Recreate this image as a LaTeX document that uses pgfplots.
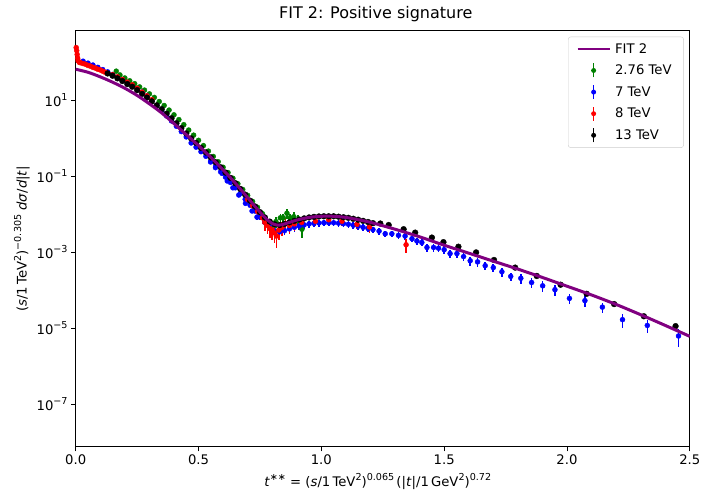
\documentclass[border=0pt]{standalone}
\usepackage{fontspec}
\setmainfont{DejaVu Sans}
\usepackage{pgfplots}
\usepackage{pgfplotstable}
\pgfplotsset{compat=1.18}
\definecolor{mplgreen}{HTML}{008000}
\definecolor{mplpurple}{HTML}{800080}
\newcommand\sps[1]{\raisebox{0.42em}{\fontsize{9.6bp}{10bp}\selectfont #1}}

\pgfplotstableread{
x y
0.00 64.6
0.05 53.7
0.10 40.7
0.15 29.5
0.20 20.4
0.25 13.2
0.30 7.94
0.35 4.57
0.40 2.40
0.45 1.23
0.50 0.631
0.55 0.309
0.60 0.145
0.65 0.0646
0.70 0.0269
0.73 0.0158
0.76 0.00955
0.78 0.00708
0.80 0.00562
0.82 0.00513
0.84 0.00525
0.87 0.00603
0.90 0.00692
0.95 0.00813
1.00 0.00871
1.05 0.00871
1.10 0.00813
1.15 0.00708
1.20 0.00603
1.30 0.00398
1.40 0.00251
1.50 0.00151
1.60 9.33e-4
1.70 5.75e-4
1.80 3.55e-4
1.90 2.14e-4
2.00 1.26e-4
2.10 7.41e-5
2.20 4.17e-5
2.30 2.24e-5
2.40 1.17e-5
2.50 6.03e-6
}\fittab

\pgfplotstableread{
x y e
0.165 57.5 0.05
0.18 45.7 0.05
0.20 38.0 0.05
0.22 32.0 0.05
0.24 26.9 0.05
0.26 22.1 0.05
0.28 18.2 0.05
0.30 14.5 0.05
0.32 11.7 0.05
0.34 9.12 0.05
0.36 7.16 0.05
0.38 5.43 0.05
0.40 4.07 0.05
0.42 3.05 0.05
0.44 2.24 0.05
0.46 1.62 0.05
0.48 1.19 0.05
0.50 0.871 0.06
0.52 0.631 0.06
0.54 0.452 0.06
0.56 0.327 0.07
0.58 0.237 0.07
0.60 0.170 0.08
0.62 0.123 0.08
0.64 0.0871 0.08
0.66 0.0624 0.1
0.68 0.0442 0.1
0.70 0.0309 0.1
0.72 0.0214 0.12
0.74 0.0150 0.15
0.76 0.0102 0.2
0.78 0.00631 0.3
0.80 0.00501 0.3
0.815 0.00631 0.3
0.833 0.00794 0.3
0.845 0.00794 0.3
0.86 0.0105 0.3
0.873 0.00794 0.3
0.888 0.00851 0.3
0.905 0.00708 0.3
0.921 0.00398 0.4
}\greentab

\pgfplotstableread{
x y e
0.03 105 0.03
0.05 93.3 0.03
0.07 83.2 0.03
0.09 72.4 0.03
0.11 63.1 0.03
0.13 55.0 0.03
0.15 46.8 0.03
0.17 39.8 0.03
0.19 33.9 0.03
0.21 28.8 0.03
0.23 24.0 0.03
0.25 20.0 0.03
0.27 16.2 0.03
0.29 12.9 0.03
0.31 9.33 0.03
0.33 7.08 0.03
0.35 5.25 0.03
0.37 3.80 0.03
0.39 2.82 0.03
0.41 2.04 0.03
0.43 1.48 0.03
0.45 1.07 0.04
0.47 0.741 0.05
0.49 0.575 0.05
0.51 0.437 0.05
0.53 0.331 0.05
0.55 0.245 0.06
0.57 0.182 0.06
0.59 0.129 0.07
0.61 0.0933 0.07
0.63 0.0676 0.08
0.65 0.0490 0.08
0.67 0.0347 0.1
0.69 0.0245 0.1
0.71 0.0170 0.12
0.73 0.0120 0.12
0.75 0.00832 0.15
0.77 0.00603 0.2
0.79 0.00447 0.25
0.81 0.00363 0.25
0.83 0.00339 0.25
0.85 0.00363 0.25
0.87 0.00407 0.25
0.89 0.00447 0.25
0.91 0.00484 0.22
0.93 0.00519 0.2
0.95 0.00550 0.2
0.97 0.00569 0.2
0.99 0.00582 0.2
1.01 0.00589 0.2
1.03 0.00589 0.2
1.05 0.00589 0.2
1.07 0.00575 0.2
1.09 0.00556 0.2
1.11 0.00537 0.2
1.13 0.00507 0.2
1.15 0.00479 0.2
1.17 0.00447 0.2
1.19 0.00417 0.2
1.21 0.00389 0.2
1.235 0.00355 0.2
1.26 0.00302 0.2
1.287 0.00302 0.2
1.314 0.00275 0.2
1.341 0.00263 0.2
1.369 0.00224 0.2
1.389 0.00195 0.2
1.409 0.00178 0.2
1.43 0.00132 0.22
1.457 0.00132 0.22
1.477 0.00126 0.22
1.50 0.00115 0.22
1.524 9.12e-4 0.25
1.552 9.12e-4 0.25
1.579 7.59e-4 0.25
1.606 5.89e-4 0.25
1.636 5.50e-4 0.25
1.667 4.37e-4 0.25
1.70 3.89e-4 0.25
1.735 3.02e-4 0.25
1.771 2.29e-4 0.25
1.812 2.04e-4 0.3
1.856 1.58e-4 0.3
1.901 1.29e-4 0.3
1.951 1.02e-4 0.3
2.01 6.03e-5 0.3
2.073 5.25e-5 0.3
2.144 3.55e-5 0.3
2.226 1.66e-5 0.4
2.327 1.17e-5 0.35
2.454 6.17e-6 0.5
0.549 0.234 0.06
0.569 0.166 0.06
0.596 0.117 0.07
0.617 0.0741 0.07
0.64 0.0490 0.08
0.664 0.0316 0.08
0.691 0.0191 0.1
0.718 0.0120 0.12
0.738 0.00832 0.15
}\bluetab

\pgfplotstableread{
x y e
0.002 240 0.08
0.004 200 0.08
0.006 158 0.08
0.008 126 0.06
0.010 107 0.05
0.015 97.7 0.05
0.02 95.5 0.05
0.03 91.2 0.05
0.04 87.1 0.05
0.05 81.3 0.05
0.06 77.6 0.05
0.07 72.4 0.05
0.08 69.2 0.05
0.09 64.6 0.05
0.10 61.7 0.05
0.11 57.5 0.05
0.12 53.7 0.05
0.13 50.1 0.05
0.15 46.8 0.05
0.17 40.7 0.05
0.19 34.7 0.05
0.21 29.5 0.05
0.23 25.1 0.05
0.25 20.4 0.05
0.27 16.2 0.05
0.29 12.9 0.05
0.31 10.2 0.05
0.70 0.0240 0.2
0.72 0.0166 0.2
0.74 0.0117 0.25
0.76 0.00794 0.3
0.77 0.00603 0.4
0.78 0.00501 0.4
0.79 0.00417 0.45
0.80 0.00380 0.45
0.81 0.00316 0.45
0.817 0.00263 0.5
0.827 0.00380 0.45
0.84 0.00447 0.4
0.854 0.00562 0.4
0.87 0.00501 0.4
0.89 0.00550 0.35
0.92 0.00603 0.3
0.976 0.00646 0.25
1.03 0.00708 0.25
1.084 0.00646 0.25
1.145 0.00537 0.25
1.196 0.00457 0.3
1.345 0.00155 0.4
}\redtab

\pgfplotstableread{
x y e
0.13 50.1 0.02
0.15 43.7 0.02
0.17 37.2 0.02
0.19 31.6 0.02
0.21 26.3 0.02
0.23 22.4 0.02
0.25 18.2 0.02
0.27 14.5 0.02
0.29 11.6 0.02
0.31 9.23 0.02
0.33 7.24 0.02
0.35 5.75 0.02
0.37 4.37 0.02
0.39 3.31 0.02
0.41 2.45 0.02
0.43 1.82 0.02
0.45 1.32 0.02
0.47 0.977 0.02
0.49 0.741 0.02
0.51 0.550 0.02
0.53 0.417 0.02
0.55 0.309 0.02
0.57 0.229 0.02
0.59 0.170 0.02
0.61 0.123 0.02
0.63 0.0891 0.02
0.65 0.0646 0.02
0.67 0.0457 0.02
0.69 0.0324 0.02
0.71 0.0224 0.02
0.73 0.0158 0.02
0.75 0.0112 0.02
0.77 0.00813 0.02
0.79 0.00631 0.02
0.81 0.00537 0.02
0.83 0.00513 0.02
0.85 0.00550 0.02
0.87 0.00603 0.02
0.89 0.00661 0.02
0.91 0.00716 0.02
0.93 0.00767 0.02
0.95 0.00813 0.02
0.97 0.00841 0.02
0.99 0.00861 0.02
1.01 0.00871 0.02
1.03 0.00871 0.02
1.05 0.00871 0.02
1.07 0.00851 0.02
1.09 0.00822 0.02
1.11 0.00794 0.02
1.13 0.00750 0.02
1.15 0.00708 0.02
1.17 0.00661 0.02
1.19 0.00617 0.02
1.21 0.00575 0.02
1.24 0.00562 0.02
1.274 0.00513 0.02
1.335 0.00398 0.02
1.382 0.00324 0.02
1.45 0.00240 0.02
1.497 0.00182 0.02
1.558 0.00138 0.02
1.63 9.77e-4 0.02
1.703 6.17e-4 0.02
1.789 3.89e-4 0.02
1.877 2.34e-4 0.02
1.974 1.38e-4 0.02
2.08 7.94e-5 0.02
2.192 4.27e-5 0.02
2.313 2.04e-5 0.02
2.442 1.12e-5 0.02
}\blacktab

\pgfplotsset{
  dat/.style={color=#1, only marks, mark=*, mark size=2.5bp,
    mark options={solid, fill=#1, draw=#1},
    error bars/y dir=both, error bars/y explicit relative,
    error bars/error bar style={line width=1.6bp, color=#1, solid},
    error bars/error mark=none,
    legend image code/.code={%
      \path[draw=none] (0bp,0bp) -- (32bp,0bp);
      \draw[line width=1.6bp, color=#1] (16bp,-7bp) -- (16bp,7bp);
      \fill[color=#1, draw=none] (16bp,0bp) circle (2.5bp);}},
}

\begin{document}
\begin{tikzpicture}
\begin{axis}[
  scale only axis, width=614bp, height=416bp,
  xmin=0, xmax=2.5, ymode=log, ymin=7.5e-9, ymax=667,
  axis line style={line width=0.8bp},
  xtick={0,0.5,1,1.5,2,2.5}, xticklabels={0.0,0.5,1.0,1.5,2.0,2.5},
  ytick={1e-7,1e-5,1e-3,1e-1,1e1},
  yticklabels={10\sps{−7},10\sps{−5},10\sps{−3},10\sps{−1},10\sps{1}},
  yminorticks=false,
  xtick pos=bottom, ytick pos=left, tick align=outside,
  major tick length=4.6bp, tick style={line width=0.8bp, black},
  ticklabel style={font=\fontsize{13.2bp}{15bp}\selectfont},
  title={FIT 2: Positive signature},
  title style={font=\fontsize{16bp}{18bp}\selectfont, yshift=-1bp, xshift=-7bp},
  label style={font=\fontsize{13.2bp}{15bp}\selectfont},
  xlabel={\textit{t}\sps{∗∗} = (\textit{s}/1\,TeV\sps{2})\sps{0.065}\,(|\textit{t}|/1\,GeV\sps{2})\sps{0.72}},
  xlabel style={yshift=-2bp, xshift=-5bp},
  ylabel={(\textit{s}/1\,TeV\sps{2})\sps{−0.305} \textit{dσ}/\textit{d}|\textit{t}|},
  legend cell align=left,
  legend style={at={(1,1)}, anchor=north east, xshift=-6bp, yshift=-6bp,
    draw=black!20, rounded corners=2.5bp, fill=white,
    font=\fontsize{13.2bp}{15bp}\selectfont,
    inner xsep=8bp, inner ysep=4.5bp, row sep=6bp,
    nodes={inner xsep=4bp}},
]
\addlegendimage{legend image code/.code={\draw[mplpurple, line width=2.8bp] (0bp,0bp) -- (32bp,0bp);}}
\addlegendentry{FIT 2}
\addplot[dat=mplgreen] table[x=x, y=y, y error=e] {\greentab};
\addlegendentry{2.76 TeV}
\addplot[dat=blue] table[x=x, y=y, y error=e] {\bluetab};
\addlegendentry{7 TeV}
\addplot[dat=red] table[x=x, y=y, y error=e] {\redtab};
\addlegendentry{8 TeV}
\addplot[dat=black, mark size=2.9bp] table[x=x, y=y, y error=e] {\blacktab};
\addlegendentry{13 TeV}
\end{axis}
\begin{axis}[scale only axis, width=614bp, height=416bp,
  xmin=0, xmax=2.5, ymode=log, ymin=7.5e-9, ymax=667, hide axis]
\addplot[mplpurple, line width=3bp, smooth] table[x=x, y=y] {\fittab};
\end{axis}
\pgfresetboundingbox
\path[use as bounding box] ([shift={(-75.7bp,-45.3bp)}]current axis.south west) rectangle ([shift={(12.2bp,30.7bp)}]current axis.north east);
\end{tikzpicture}
\end{document}
